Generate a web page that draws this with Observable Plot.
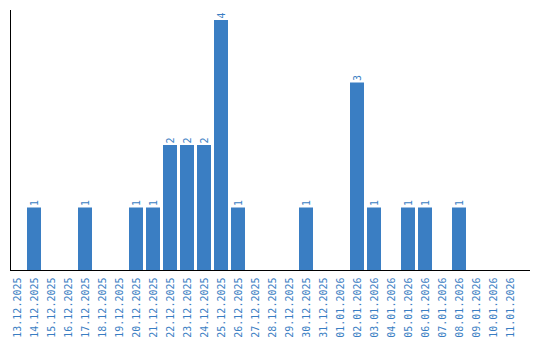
<!DOCTYPE html>
<html>
<head>
<meta charset="utf-8">
<script src="https://cdn.jsdelivr.net/npm/d3@7"></script>
<script src="https://cdn.jsdelivr.net/npm/@observablehq/plot@0.6"></script>
<style>
  html, body { margin: 0; padding: 0; background: #fff; }
  #chart svg { display: block; }
</style>
</head>
<body>
<div id="chart"></div>
<script>
const dates = [
  "13.12.2025","14.12.2025","15.12.2025","16.12.2025","17.12.2025","18.12.2025",
  "19.12.2025","20.12.2025","21.12.2025","22.12.2025","23.12.2025","24.12.2025",
  "25.12.2025","26.12.2025","27.12.2025","28.12.2025","29.12.2025","30.12.2025",
  "31.12.2025","01.01.2026","02.01.2026","03.01.2026","04.01.2026","05.01.2026",
  "06.01.2026","07.01.2026","08.01.2026","09.01.2026","10.01.2026","11.01.2026"
];
const counts = [
  0,1,0,0,1,0,
  0,1,1,2,2,2,
  4,1,0,0,0,1,
  0,0,3,1,0,1,
  1,0,1,0,0,0
];

const data = dates.map((d, i) => ({date: d, count: counts[i]}));
const blue = "#3a7ec3";

const chart = Plot.plot({
  width: 540,
  height: 340,
  marginLeft: 10,
  marginRight: 10,
  marginTop: 10,
  marginBottom: 70,
  style: {fontFamily: "DejaVu Sans Mono", fontSize: "10px", background: "#fff"},
  x: {domain: dates, paddingInner: 0.1765, paddingOuter: 0.382, align: 0, label: null},
  y: {domain: [0, 4.16], axis: null},
  marks: [
    Plot.barY(data.filter(d => d.count > 0), {x: "date", y: "count", fill: blue}),
    Plot.text(data.filter(d => d.count > 0), {
      x: "date", y: "count", text: d => String(d.count),
      rotate: -90, textAnchor: "start", dy: -2, fill: blue, fontSize: 10
    }),
    Plot.axisX({tickRotate: -90, tickSize: 0, tickPadding: 7, fill: blue, fontSize: 10, label: null}),
    Plot.ruleY([0], {stroke: "#000"}),
    Plot.frame({anchor: "left", stroke: "#000"})
  ]
});
document.getElementById("chart").appendChild(chart);
</script>
</body>
</html>
